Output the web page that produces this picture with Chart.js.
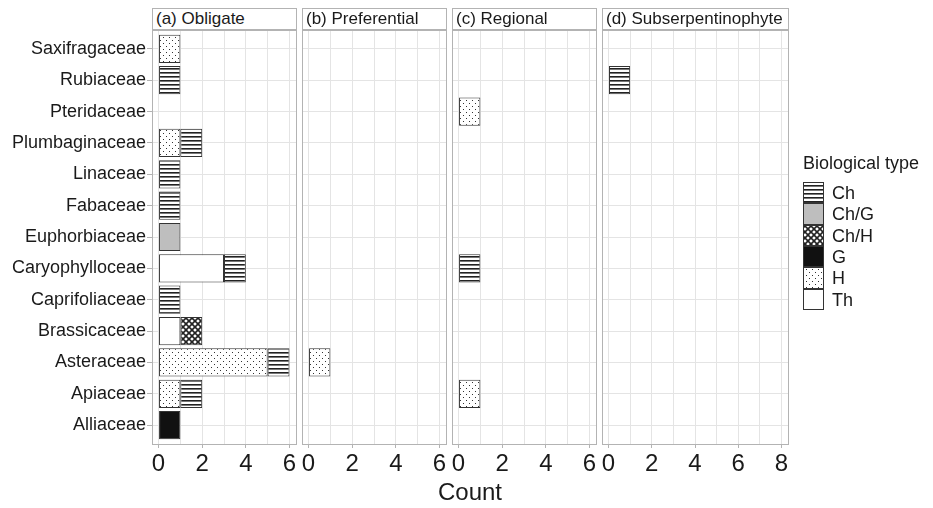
<!DOCTYPE html>
<html>
<head>
<meta charset="utf-8">
<script src="https://cdn.jsdelivr.net/npm/chart.js@4.4.0/dist/chart.umd.min.js"></script>
<style>
    body { margin: 0; background: #fff; font-family: 'Liberation Sans', Arial, sans-serif; }
    #wrap { position: relative; width: 933px; height: 508px; overflow: hidden; background: #fff; }
    #wrap canvas.panel { position: absolute; left: 0; top: 0; }
    .strip { position: absolute; top: 8px; height: 22px; box-sizing: border-box; border: 1px solid #b3b3b3;
             font-size: 17px; line-height: 20px; padding-left: 3px; color: #1a1a1a; white-space: nowrap; background: #fff; }
    .txt { position: absolute; color: #1a1a1a; white-space: nowrap; }
</style>
</head>
<body>
<div id="wrap">
    <canvas class="panel" id="p0" width="933" height="508"></canvas>
    <canvas class="panel" id="p1" width="933" height="508"></canvas>
    <canvas class="panel" id="p2" width="933" height="508"></canvas>
    <canvas class="panel" id="p3" width="933" height="508"></canvas>
    <div class="txt" style="left:0;width:940px;top:480px;font-size:24px;line-height:24px;text-align:center;">Count</div>
    <div class="txt" id="legendTitle" style="left:803px;top:152px;font-size:18px;line-height:22px;">Biological type</div>
    <canvas id="legendKeys" width="24" height="132" style="position:absolute;left:802px;top:181px;"></canvas>
</div>
<script>
// families, top to bottom
const families = ['Saxifragaceae', 'Rubiaceae', 'Pteridaceae', 'Plumbaginaceae', 'Linaceae', 'Fabaceae',
    'Euphorbiaceae', 'Caryophylloceae', 'Caprifoliaceae', 'Brassicaceae', 'Asteraceae', 'Apiaceae', 'Alliaceae'];
const bioTypes = ['Ch', 'Ch/G', 'Ch/H', 'G', 'H', 'Th'];
const panelTitles = ['(a) Obligate', '(b) Preferential', '(c) Regional', '(d) Subserpentinophyte'];
const panelMax = [6, 6, 6, 8];
const xTickLabels = [[0, 2, 4, 6], [0, 2, 4, 6], [0, 2, 4, 6], [0, 2, 4, 6, 8]];

// counts per family (same order as families), one array per biological type
const obligate = {
    'Ch':   [0, 1, 0, 1, 1, 1, 0, 1, 1, 0, 1, 1, 0],
    'Ch/G': [0, 0, 0, 0, 0, 0, 1, 0, 0, 0, 0, 0, 0],
    'Ch/H': [0, 0, 0, 0, 0, 0, 0, 0, 0, 1, 0, 0, 0],
    'G':    [0, 0, 0, 0, 0, 0, 0, 0, 0, 0, 0, 0, 1],
    'H':    [1, 0, 0, 1, 0, 0, 0, 0, 0, 0, 5, 1, 0],
    'Th':   [0, 0, 0, 0, 0, 0, 0, 3, 0, 1, 0, 0, 0]
};
const preferential = {
    'H':    [0, 0, 0, 0, 0, 0, 0, 0, 0, 0, 1, 0, 0]
};
const regional = {
    'Ch':   [0, 0, 0, 0, 0, 0, 0, 1, 0, 0, 0, 0, 0],
    'H':    [0, 0, 1, 0, 0, 0, 0, 0, 0, 0, 0, 1, 0]
};
const subserpentinophyte = {
    'Ch':   [0, 1, 0, 0, 0, 0, 0, 0, 0, 0, 0, 0, 0]
};
const panelData = [obligate, preferential, regional, subserpentinophyte];

// frame edges of each facet (px)
const frames = [[152, 296], [302, 446], [452, 596], [602, 788]];
const areaTop = 30, areaBottom = 444;
const fontFamily = "'Liberation Sans', Arial, sans-serif";

// fill patterns for the biological types
function makePatterns(ctx) {
    const tile = (w, h, draw) => {
        const c = document.createElement('canvas');
        c.width = w; c.height = h;
        const t = c.getContext('2d');
        t.fillStyle = '#fff';
        t.fillRect(0, 0, w, h);
        draw(t);
        return ctx.createPattern(c, 'repeat');
    };
    return {
        'Ch': tile(4, 4, t => {
            t.fillStyle = '#222'; t.fillRect(0, 0, 4, 1);
            t.fillStyle = '#777'; t.fillRect(0, 1, 4, 1);
        }),
        'Ch/G': '#bebebe',
        'Ch/H': tile(6, 6, t => {
            t.strokeStyle = '#222'; t.lineWidth = 1.6;
            t.beginPath();
            t.moveTo(-1, -1); t.lineTo(7, 7);
            t.moveTo(-1, 7); t.lineTo(7, -1);
            t.stroke();
        }),
        'G': '#111',
        'H': tile(6, 6, t => {
            t.fillStyle = '#333';
            t.fillRect(1, 1, 1, 1);
            t.fillRect(4, 4, 1, 1);
        }),
        'Th': '#fff'
    };
}

const panelFrame = {
    id: 'panelFrame',
    afterDatasetsDraw(chart) {
        const { ctx, chartArea: a } = chart;
        ctx.save();
        ctx.strokeStyle = '#b3b3b3';
        ctx.lineWidth = 1;
        ctx.strokeRect(Math.round(a.left) + 0.5, Math.round(a.top) + 0.5,
            Math.round(a.right - a.left), Math.round(a.bottom - a.top));
        ctx.restore();
    }
};

panelData.forEach((counts, p) => {
    const canvas = document.getElementById('p' + p);
    const ctx = canvas.getContext('2d');
    const patterns = makePatterns(ctx);
    const showLabels = p === 0;
    const [left, right] = frames[p];

    // strip header
    const strip = document.createElement('div');
    strip.className = 'strip';
    strip.style.left = left + 'px';
    strip.style.width = (right - left + 1) + 'px';
    strip.textContent = panelTitles[p];
    document.getElementById('wrap').appendChild(strip);

    // stacking: first dataset sits at zero, so go from Th back to Ch
    const datasets = bioTypes.slice().reverse()
        .filter(t => counts[t])
        .map(t => ({
            label: t,
            data: counts[t].map(v => v || null),
            backgroundColor: patterns[t],
            borderColor: '#333',
            borderWidth: 1,
            borderSkipped: false,
            inflateAmount: 0,
            barPercentage: 0.9,
            categoryPercentage: 1
        }));

    new Chart(ctx, {
        type: 'bar',
        data: {
            labels: families.map((f, i) => i),
            datasets: datasets
        },
        options: {
            indexAxis: 'y',
            responsive: false,
            animation: false,
            devicePixelRatio: 1,
            layout: {
                padding: {
                    left: showLabels ? 0 : left,
                    right: 933 - right,
                    top: areaTop,
                    bottom: 508 - areaBottom - 40
                }
            },
            scales: {
                x: {
                    type: 'linear',
                    min: -0.3,
                    max: panelMax[p] + 0.3,
                    stacked: true,
                    afterFit: s => { s.height = 40; },
                    border: { display: false },
                    grid: {
                        color: '#e4e4e4',
                        lineWidth: 1,
                        tickLength: 4,
                        tickColor: c => (c.tick && xTickLabels[p].includes(c.tick.value)) ? '#b3b3b3' : 'rgba(0,0,0,0)'
                    },
                    ticks: {
                        stepSize: 1,
                        includeBounds: false,
                        autoSkip: false,
                        maxRotation: 0,
                        padding: 2,
                        color: '#1a1a1a',
                        font: { size: 24, family: fontFamily },
                        callback: v => xTickLabels[p].includes(v) ? String(v) : ''
                    }
                },
                y: {
                    type: 'linear',
                    reverse: true,
                    offset: false,
                    min: -0.6,
                    max: families.length - 0.4,
                    stacked: true,
                    afterFit: s => { s.width = showLabels ? left : 0; },
                    border: { display: false },
                    grid: {
                        offset: false,
                        color: '#e4e4e4',
                        lineWidth: 1,
                        drawTicks: showLabels,
                        tickLength: 5,
                        tickColor: '#b3b3b3'
                    },
                    ticks: {
                        display: showLabels,
                        stepSize: 1,
                        includeBounds: false,
                        autoSkip: false,
                        padding: 1,
                        color: '#1a1a1a',
                        font: { size: 18, family: fontFamily },
                        callback: v => families[v] ?? ''
                    }
                }
            },
            plugins: {
                legend: { display: false },
                tooltip: { enabled: false }
            }
        },
        plugins: [panelFrame]
    });
});

// legend keys
const lc = document.getElementById('legendKeys');
const lctx = lc.getContext('2d');
const lpat = makePatterns(lctx);
const keyH = 21.33;
bioTypes.forEach((t, i) => {
    const y0 = Math.round(1 + i * keyH);
    const y1 = Math.round(1 + (i + 1) * keyH);
    lctx.fillStyle = lpat[t];
    lctx.fillRect(1, y0, 21, y1 - y0);
    lctx.strokeStyle = '#333';
    lctx.lineWidth = 1;
    lctx.strokeRect(1.5, y0 + 0.5, 20, y1 - y0 - 1);

    const lab = document.createElement('div');
    lab.className = 'txt';
    lab.style.left = '832px';
    lab.style.top = (181 + (y0 + y1) / 2 - 11) + 'px';
    lab.style.fontSize = '18px';
    lab.style.lineHeight = '22px';
    lab.textContent = t;
    document.getElementById('wrap').appendChild(lab);
});
</script>
</body>
</html>
